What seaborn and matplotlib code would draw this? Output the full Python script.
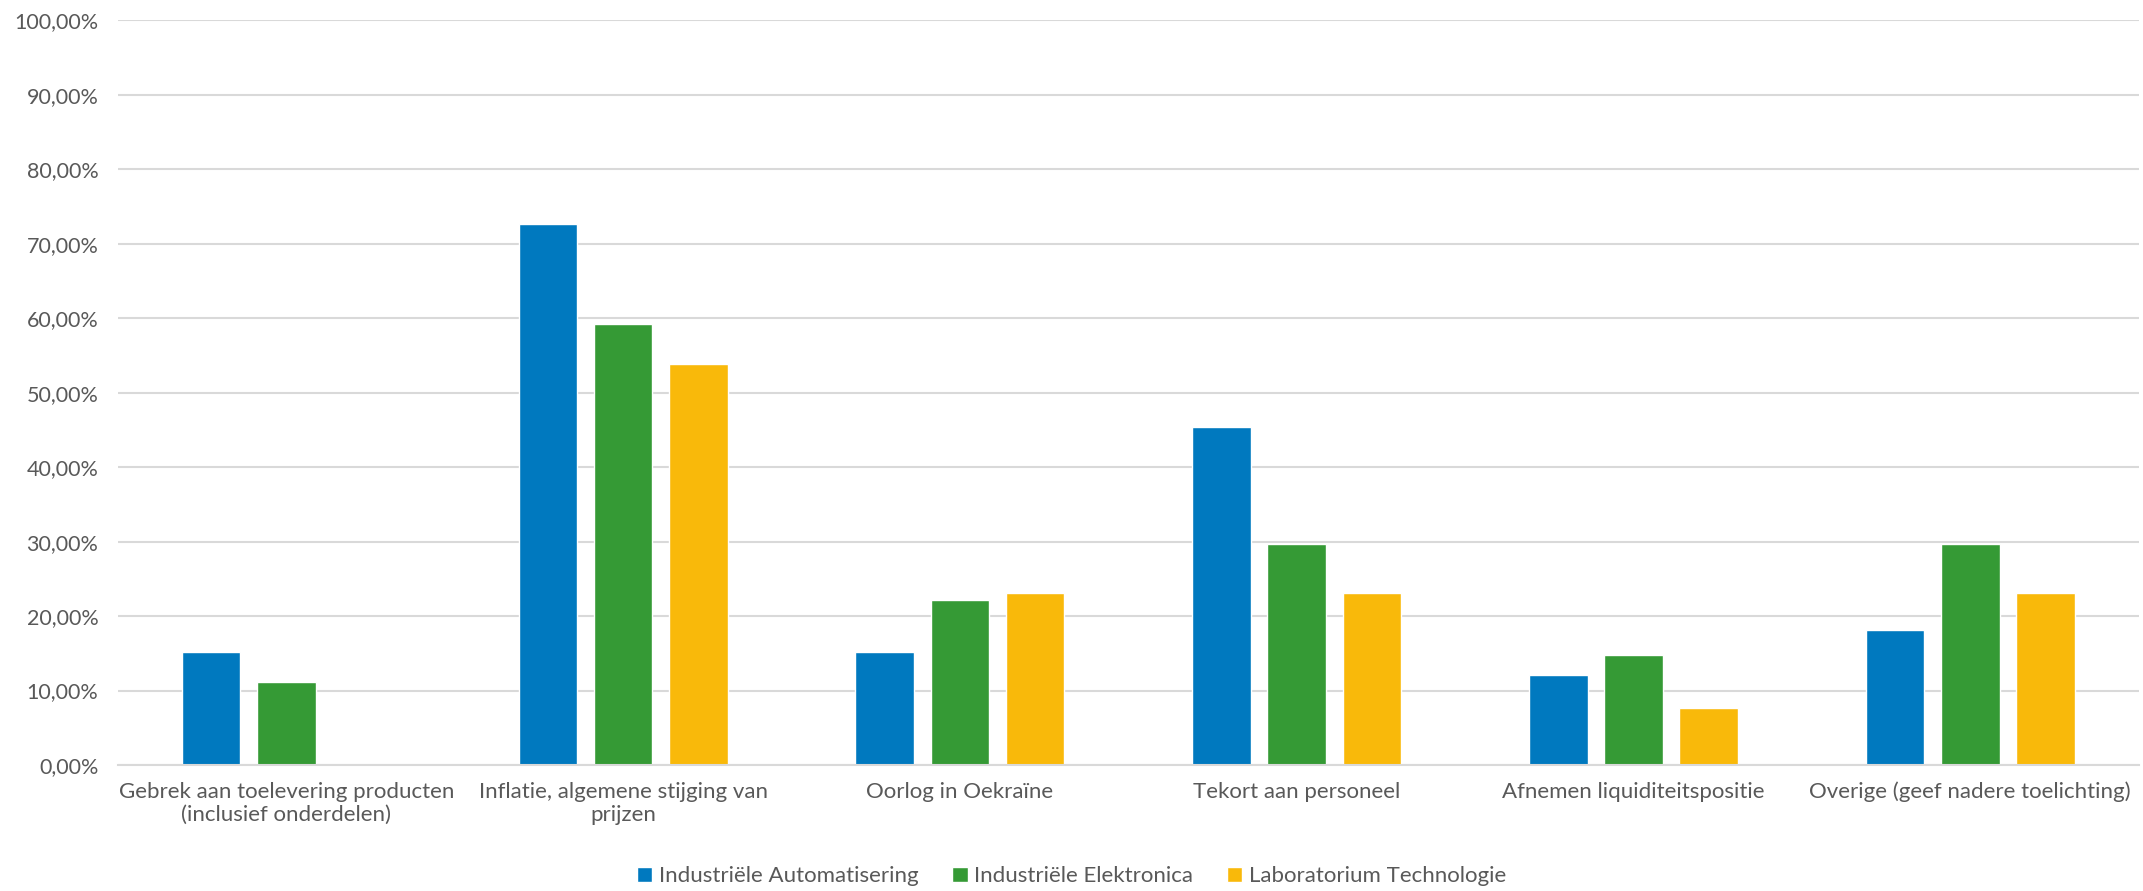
import matplotlib
matplotlib.use("Agg")
import matplotlib.pyplot as plt
import seaborn as sns
import pandas as pd
from matplotlib.patches import Patch
from matplotlib.ticker import FuncFormatter, MultipleLocator

categories = [
    "Gebrek aan toelevering producten\n(inclusief onderdelen)",
    "Inflatie, algemene stijging van\nprijzen",
    "Oorlog in Oekraïne",
    "Tekort aan personeel",
    "Afnemen liquiditeitspositie",
    "Overige (geef nadere toelichting)",
]
series = ["Industriële Automatisering", "Industriële Elektronica", "Laboratorium Technologie"]
automatisering = [15.15, 72.73, 15.15, 45.45, 12.12, 18.18]
elektronica = [11.11, 59.26, 22.22, 29.63, 14.81, 29.63]
laboratorium = [0.0, 53.85, 23.08, 23.08, 7.69, 23.08]
colors = ["#0079BF", "#359A35", "#F9B90A"]

rows = []
for name, vals in zip(series, [automatisering, elektronica, laboratorium]):
    for c, v in zip(categories, vals):
        rows.append({"cat": c, "serie": name, "val": v})
df = pd.DataFrame(rows)

sns.set_style("white")
plt.rcParams["font.family"] = ["Lato", "DejaVu Sans"]
text_color = "#595959"

fig = plt.figure(figsize=(21.43, 8.91), dpi=100)
ax = fig.add_axes([0.055, 0.1414, 0.943, 0.8356])

sns.barplot(data=df, x="cat", y="val", hue="serie", palette=colors,
            width=0.67, gap=0.22, ax=ax, legend=False, saturation=1)

ax.set_ylim(0, 100)
ax.set_xlim(-0.5, len(categories) - 0.5)
ax.yaxis.set_major_locator(MultipleLocator(10))
ax.yaxis.set_major_formatter(FuncFormatter(lambda v, p: f"{v:.2f}%".replace(".", ",")))
ax.grid(axis="y", color="#D9D9D9", linewidth=1.5)
ax.set_axisbelow(True)
for s in ["top", "right", "left"]:
    ax.spines[s].set_visible(False)
ax.spines["bottom"].set_color("#D9D9D9")
ax.spines["bottom"].set_linewidth(1.5)
ax.set_xlabel("")
ax.set_ylabel("")
ax.tick_params(axis="x", length=0, labelsize=16, colors=text_color, pad=12)
ax.tick_params(axis="y", length=0, labelsize=15.5, colors=text_color, pad=14)

handles = [Patch(facecolor=c, label=s) for c, s in zip(colors, series)]
fig.legend(handles=handles, loc="lower center", ncol=3, frameon=False,
           bbox_to_anchor=(0.5, -0.017), fontsize=16, labelcolor=text_color,
           handlelength=0.7, handleheight=0.7, handletextpad=0.3, columnspacing=1.5)

fig.savefig("out.png", dpi=100)
